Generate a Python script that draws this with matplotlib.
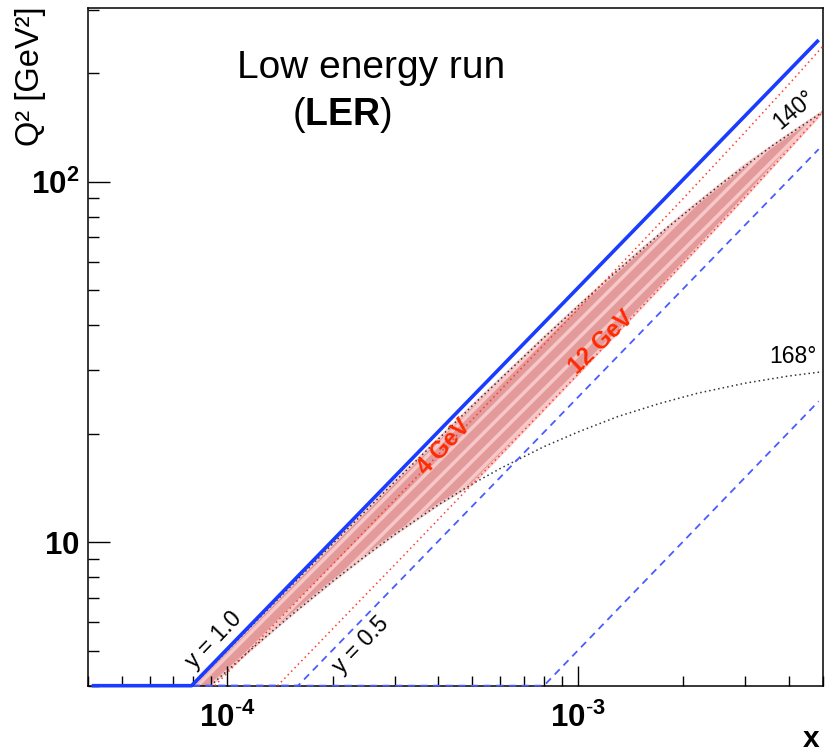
import matplotlib
matplotlib.use("Agg")
import matplotlib.pyplot as plt
from matplotlib.ticker import FixedLocator, LogLocator, NullFormatter

plt.rcParams['font.family'] = ['Liberation Sans', 'DejaVu Sans']
plt.rcParams['mathtext.fontset'] = 'custom'
plt.rcParams['mathtext.rm'] = 'Liberation Sans'
plt.rcParams['mathtext.bf'] = 'Liberation Sans:bold'
plt.rcParams['hatch.linewidth'] = 2.5

# kinematic limits (x, Q2 in GeV^2)
x_y10 = [4.1e-5, 7.9e-5, 4.87e-3]
q2_y10 = [4.0, 4.0, 247]
x_y05 = [4.1e-5, 1.59e-4, 4.87e-3]
q2_y05 = [4.0, 4.0, 123]
x_y01 = [4.1e-5, 8.0e-4, 4.87e-3]
q2_y01 = [4.0, 4.0, 24.6]

# scattered electron energy lines
e4_x = [9.2e-5, 2e-4, 5e-4, 1e-3, 2e-3, 3e-3, 4e-3, 5e-3]
e4_q2 = [4.0, 8.7, 21.9, 44.2, 89.8, 137, 186, 237]
e12_x = [1.39e-4, 2e-4, 3e-4, 5e-4, 1e-3, 2e-3, 3e-3, 4e-3, 5e-3]
e12_q2 = [4.0, 5.76, 8.65, 14.5, 29.2, 59.4, 90.6, 123, 156]

# scattering angle lines
th140_x = [7.96e-5, 1.2e-4, 2e-4, 3e-4, 5e-4, 8e-4, 1.2e-3, 1.8e-3, 2.6e-3, 3.6e-3, 5e-3]
th140_q2 = [4.0, 6.0, 9.91, 14.7, 23.9, 36.9, 53.0, 74.5, 99.5, 126, 156]
th168_x = [8.94e-5, 1.2e-4, 1.5e-4, 2e-4, 2.5e-4, 3e-4, 4e-4, 5e-4, 6e-4, 8e-4,
           1e-3, 1.3e-3, 1.7e-3, 2.2e-3, 3e-3, 4e-3, 5e-3]
th168_q2 = [4.0, 5.16, 6.21, 7.80, 9.22, 10.5, 12.7, 14.5, 16.0, 18.4,
            20.2, 22.3, 24.2, 25.9, 27.6, 28.9, 29.7]

# accepted region (band)
band_x = [8.0e-5, 9e-5, 1.2e-4, 1.5e-4, 2e-4, 2.5e-4, 3e-4, 4e-4, 5e-4, 6e-4,
          8e-4, 1e-3, 1.5e-3, 2e-3, 3e-3, 4e-3, 5e-3]
band_hi = [4.02, 4.52, 6.0, 7.48, 9.91, 12.3, 14.7, 19.3, 23.9, 28.3,
           36.9, 45.1, 64.1, 81.2, 111, 135, 156]
band_lo = [3.63, 4.03, 5.16, 6.21, 7.80, 9.22, 10.5, 12.7, 14.5, 17.4,
           23.3, 29.2, 44.2, 59.4, 90.6, 123, 156]

blue = '#1a3cff'
blue_d = '#4a5cff'
red_d = '#ff3b2a'

fig = plt.figure(figsize=(8.25, 7.54), dpi=100)
ax = fig.add_axes([0.1067, 0.0906, 0.8905, 0.8988])
ax.set_xscale('log')
ax.set_yscale('log')
ax.set_xlim(4e-5, 5e-3)
ax.set_ylim(4, 303)

# band
ax.fill_between(band_x, band_lo, band_hi, facecolor='#e39a9a', edgecolor='#f8c8c8',
                hatch='//', linewidth=0, zorder=1)
ax.plot(band_x, band_hi, color='#f8caca', lw=2.0, zorder=1.5)
ax.plot(band_x, band_lo, color='#f8caca', lw=2.0, zorder=1.5)

ax.plot(th140_x, th140_q2, color='#333333', lw=1.1, ls=(0, (1, 2)), zorder=3)
ax.plot(th168_x, th168_q2, color='#333333', lw=1.1, ls=(0, (1, 2)), zorder=3)
ax.plot(e4_x, e4_q2, color=red_d, lw=1.1, ls=(0, (1, 2.2)), zorder=3)
ax.plot(e12_x, e12_q2, color=red_d, lw=1.1, ls=(0, (1, 2.2)), zorder=3)

ax.plot(x_y01, q2_y01, color=blue_d, lw=1.3, ls=(0, (4, 3)), zorder=4, clip_on=False)
ax.plot(x_y05, q2_y05, color=blue_d, lw=1.3, ls=(0, (4, 3)), zorder=4, clip_on=False)
ax.plot(x_y10, q2_y10, color=blue, lw=2.6, zorder=5, clip_on=False, solid_capstyle='butt')

# labels on the curves
ax.text(9.12e-5, 5.36, 'y = 1.0', rotation=46, fontsize=16.5, ha='center', va='center')
ax.text(2.4e-4, 5.19, 'y = 0.5', rotation=46, fontsize=16.5, ha='center', va='center')
ax.text(4.15e-3, 158, '140°', rotation=40, fontsize=16.5, ha='center', va='center')
ax.text(4.1e-3, 32.7, '168°', fontsize=16.5, ha='center', va='center')
ax.text(4.16e-4, 18.4, '4 GeV', rotation=47, fontsize=17, fontweight='bold',
        color='#ff2a00', ha='center', va='center', zorder=6)
ax.text(1.169e-3, 35.7, '12 GeV', rotation=44, fontsize=17, fontweight='bold',
        color='#ff2a00', ha='center', va='center', zorder=6)

# axes styling
ax.xaxis.set_major_locator(FixedLocator([1e-4, 1e-3]))
ax.set_xticklabels([r'$\mathbf{10^{\text{-}4}}$', r'$\mathbf{10^{\text{-}3}}$'])
ax.xaxis.set_minor_locator(LogLocator(base=10, subs=range(2, 10)))
ax.xaxis.set_minor_formatter(NullFormatter())
ax.yaxis.set_major_locator(FixedLocator([10, 100]))
ax.set_yticklabels([r'$\mathbf{10}$', r'$\mathbf{10^{2}}$'])
ax.yaxis.set_minor_locator(LogLocator(base=10, subs=range(2, 10)))
ax.yaxis.set_minor_formatter(NullFormatter())

ax.tick_params(which='both', direction='in', top=False, right=False, width=1.0)
ax.tick_params(axis='x', which='major', length=14.5, labelsize=22.5, pad=12)
ax.tick_params(axis='x', which='minor', length=7.2)
ax.tick_params(axis='y', which='major', length=15.8, labelsize=22.5, pad=6)
ax.tick_params(axis='y', which='minor', length=7.9)
for s in ax.spines.values():
    s.set_linewidth(1.1)

fig.text(31 / 825, 1 - 76 / 754, 'Q² [GeV²]', rotation=90, fontsize=23.5,
         ha='center', va='center')
fig.text(811.5 / 825, 1 - 739 / 754, 'x', fontsize=21.5, fontweight='bold',
         ha='center', va='center')
fig.text(371.5 / 825, 1 - 78 / 754, 'Low energy run', fontsize=28,
         ha='center', va='baseline')
fig.text(342 / 825, 1 - 125 / 754, r'($\mathbf{LER}$)', fontsize=27,
         ha='center', va='baseline')

fig.savefig('out.png', dpi=100)
